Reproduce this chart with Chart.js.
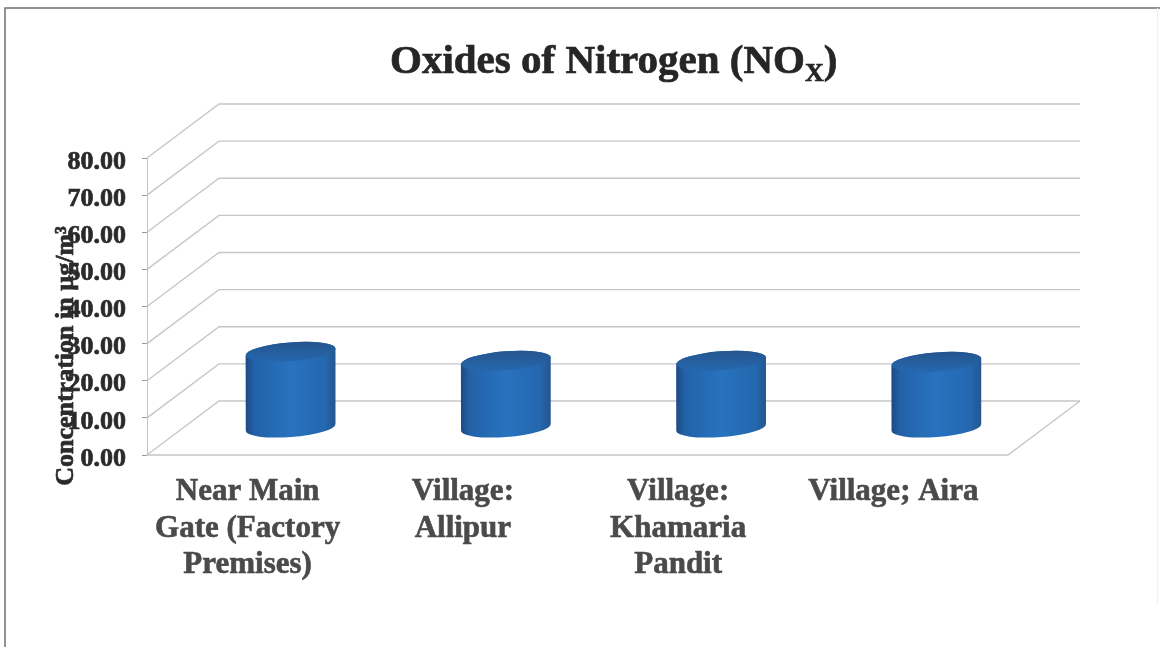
<!DOCTYPE html>
<html lang="en">
<head>
    <meta charset="UTF-8">
    <script src="https://cdn.jsdelivr.net/npm/chart.js"></script>
    <title>Oxides of Nitrogen (NOx)</title>
    <style>
        html, body { margin: 0; padding: 0; background: #fff; overflow: hidden; }
        canvas { display: block; filter: blur(0.4px); }
    </style>
</head>
<body>
    <canvas id="myChart" width="1160" height="647"></canvas>
<script>
    const locations = [
        ["Near Main", "Gate (Factory", "Premises)"],
        ["Village:", "Allipur"],
        ["Village:", "Khamaria", "Pandit"],
        ["Village; Aira"]
    ];
    const concentrations = [20.5, 18.1, 18.1, 17.8];
    const yAxisTitle = "Concentration in µg/m³";
    const titleText = "Oxides of Nitrogen (NO";
    const titleSub = "X";
    const titleEnd = ")";

    const serif = "'Liberation Serif', serif";
    // how far the back wall sits from the front of the 3D box
    const depthX = 72;
    const depthY = 54;

    // page frame, title and axis title
    const frame = {
        id: 'frame',
        beforeDraw(chart) {
            const c = chart.ctx;
            c.save();
            c.fillStyle = '#fff';
            c.fillRect(0, 0, chart.width, chart.height);
            c.strokeStyle = '#6f6f6f';
            c.lineWidth = 1.5;
            c.beginPath();
            c.moveTo(5, 647);
            c.lineTo(5, 8);
            c.lineTo(1160, 8);
            c.stroke();
            c.strokeStyle = '#f1f1f1';
            c.lineWidth = 1;
            c.beginPath();
            c.moveTo(1157.5, 8);
            c.lineTo(1157.5, 605);
            c.stroke();
            c.restore();
        },
        afterDraw(chart) {
            const c = chart.ctx;
            c.save();
            c.fillStyle = '#262626';
            c.strokeStyle = '#262626';
            c.lineWidth = 0.7;
            c.textBaseline = 'alphabetic';
            c.textAlign = 'left';
            const put = (txt, size, x, y) => {
                c.font = "bold " + size + "px " + serif;
                c.fillText(txt, x, y);
                c.strokeText(txt, x, y);
                return x + c.measureText(txt).width;
            };
            let x = put(titleText, 41, 390, 73);
            x = put(titleSub, 26, x, 81);
            put(titleEnd, 41, x, 73);

            c.translate(73, 356);
            c.rotate(-Math.PI / 2);
            c.textAlign = 'center';
            c.fillStyle = '#2b2b2b';
            c.strokeStyle = '#2b2b2b';
            c.font = "bold 26px " + serif;
            c.fillText(yAxisTitle, 0, 0);
            c.strokeText(yAxisTitle, 0, 0);
            c.restore();
        }
    };

    // side wall, back wall and floor, placed from the y scale
    const walls = {
        id: 'walls',
        beforeDatasetsDraw(chart) {
            const c = chart.ctx;
            const y = chart.scales.y;
            const left = chart.chartArea.left;
            const right = chart.chartArea.right;
            c.save();
            c.strokeStyle = '#c6c6c6';
            c.lineWidth = 1.3;
            y.ticks.forEach((t) => {
                const py = y.getPixelForValue(t.value);
                c.beginPath();
                c.moveTo(left, py);
                c.lineTo(left + depthX, py - depthY);
                c.lineTo(right + depthX, py - depthY);
                c.stroke();
            });
            const py0 = y.getPixelForValue(0);
            c.beginPath();
            c.moveTo(left, py0);
            c.lineTo(right, py0);
            c.lineTo(right + depthX, py0 - depthY);
            c.stroke();
            c.restore();
        }
    };

    // the bars are laid out by the library, this redraws each one as a cylinder
    const cylinders = {
        id: 'cylinders',
        afterDatasetsDraw(chart) {
            const c = chart.ctx;
            const tilt = -0.077;
            chart.getDatasetMeta(0).data.forEach((bar) => {
                const cx = bar.x + depthX / 2;
                const top = bar.y - depthY / 2;
                const bot = bar.base - depthY / 2;
                const rx = bar.width / 2;
                const ry = 9.5;
                const dy = rx * Math.sin(tilt);

                const body = c.createLinearGradient(cx - rx, 0, cx + rx, 0);
                body.addColorStop(0, '#1d4a82');
                body.addColorStop(0.1, '#2362a8');
                body.addColorStop(0.5, '#2872bf');
                body.addColorStop(0.88, '#2468ae');
                body.addColorStop(1, '#24558f');

                c.save();
                c.beginPath();
                c.ellipse(cx, bot, rx, ry, tilt, 0, Math.PI);
                c.lineTo(cx - rx, top - dy);
                c.ellipse(cx, top, rx, ry, tilt, Math.PI, Math.PI * 2);
                c.closePath();
                c.fillStyle = body;
                c.fill();

                const cap = c.createLinearGradient(0, top - ry, 0, top + ry);
                cap.addColorStop(0, '#24568f');
                cap.addColorStop(1, '#2667ad');
                c.beginPath();
                c.ellipse(cx, top, rx, ry, tilt, 0, Math.PI * 2);
                c.fillStyle = cap;
                c.fill();
                c.restore();
            });
        }
    };

    new Chart(document.getElementById('myChart'), {
        type: 'bar',
        data: {
            labels: locations,
            datasets: [{
                label: 'Oxides of Nitrogen',
                data: concentrations,
                backgroundColor: 'rgba(0,0,0,0)',
                categoryPercentage: 1,
                barPercentage: 0.418
            }]
        },
        plugins: [frame, walls, cylinders],
        options: {
            responsive: false,
            animation: false,
            layout: { padding: { top: 158, right: 152, bottom: 0, left: 0 } },
            plugins: { legend: { display: false }, title: { display: false }, tooltip: { enabled: false } },
            scales: {
                x: {
                    afterFit(scale) { scale.height = 192; },
                    grid: { display: false },
                    border: { display: false },
                    ticks: {
                        maxRotation: 0,
                        autoSkip: false,
                        labelOffset: -7,
                        padding: 11,
                        color: '#4a4a4a',
                        textStrokeColor: '#4a4a4a',
                        textStrokeWidth: 0.6,
                        font: { family: serif, size: 31, weight: 'bold', lineHeight: 1.18 }
                    }
                },
                y: {
                    min: 0,
                    max: 80,
                    afterFit(scale) { scale.width = 147; },
                    grid: { drawOnChartArea: false, tickLength: 5, color: '#9a9a9a' },
                    border: { color: '#c4c4c4' },
                    ticks: {
                        stepSize: 10,
                        padding: 16,
                        labelOffset: 4,
                        color: '#2a2a2a',
                        textStrokeColor: '#2a2a2a',
                        textStrokeWidth: 0.7,
                        font: { family: serif, size: 26, weight: 'bold' },
                        callback: (v) => v.toFixed(2)
                    }
                }
            }
        }
    });
</script>
</body>
</html>
